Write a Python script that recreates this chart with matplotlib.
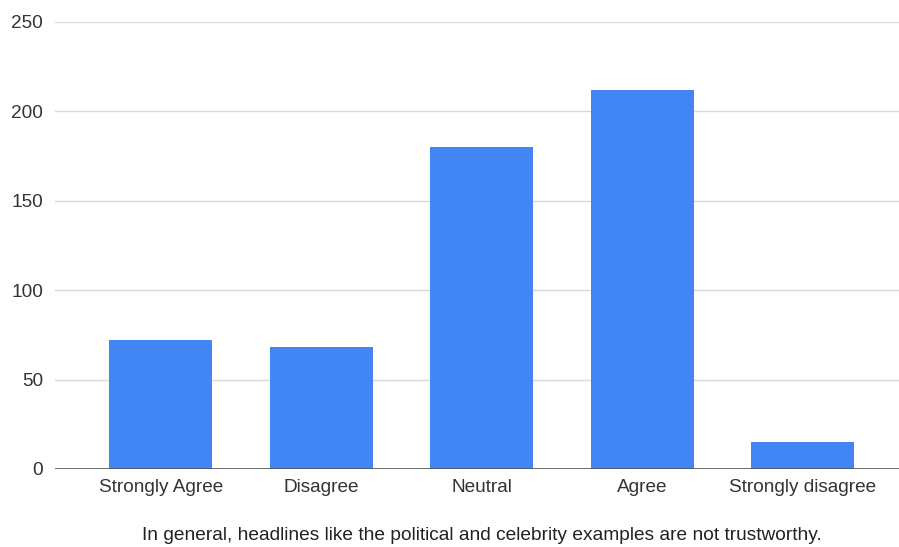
import matplotlib
matplotlib.use("Agg")
import matplotlib.pyplot as plt

categories = ["Strongly Agree", "Disagree", "Neutral", "Agree", "Strongly disagree"]
counts = [72, 68, 180, 212, 15]
y_ticks = [0, 50, 100, 150, 200, 250]
x_title = "In general, headlines like the political and celebrity examples are not trustworthy."

plt.rcParams["font.family"] = ["Liberation Sans", "DejaVu Sans"]

fig = plt.figure(figsize=(8.99, 5.47), dpi=100)
ax = fig.add_axes([0.061, 0.1426, 0.939, 0.8172])

x = list(range(len(categories)))
ax.bar(x, counts, width=0.64, color="#4285F4", zorder=3)

ax.set_xlim(-0.66, 4.6)
ax.set_ylim(0, 250)
ax.set_yticks(y_ticks)
ax.set_yticklabels([str(v) for v in y_ticks])
ax.set_xticks(x)
ax.set_xticklabels(categories)

ax.grid(axis="y", color="#d9d9d9", linewidth=1, zorder=0)
ax.axhline(0, color="#555555", linewidth=1.2, zorder=4)
for s in ax.spines.values():
    s.set_visible(False)
ax.tick_params(axis="both", length=0, labelsize=13.7, colors="#333333")
ax.tick_params(axis="y", pad=8.6)
ax.tick_params(axis="x", pad=7)

# axis title centred under the category span
fig.text(482 / 899, 1 - 535 / 547, x_title, ha="center", va="center",
         fontsize=13.8, color="#222222")

fig.savefig("out.png", dpi=100)
